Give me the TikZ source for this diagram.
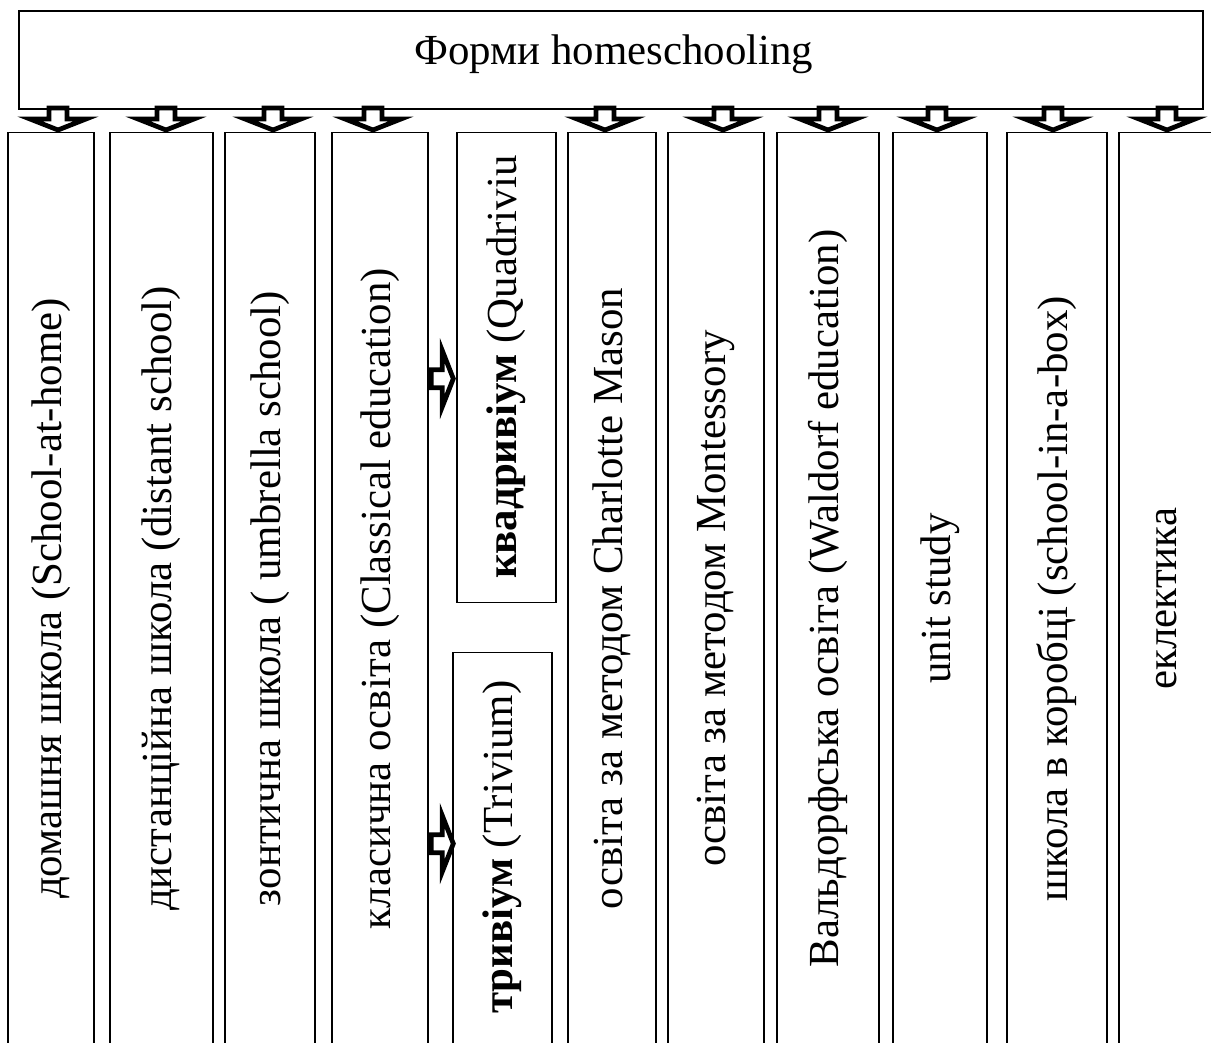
\documentclass[tikz,border=0pt]{standalone}
\usepackage{fontspec}
\setmainfont{Liberation Serif}
\usepackage{graphicx}
\usetikzlibrary{positioning,calc}

\begin{document}
\begin{tikzpicture}[x=0.02cm,y=-0.02cm,font=\fontsize{24.4}{29}\selectfont,
  frm/.style={draw,line width=0.8pt,inner sep=0pt},
  col/.style={frm,anchor=north,minimum height=18.64cm},
  blk/.style={draw=black,fill=white,line width=0.095cm,miter limit=10},
  darr/.pic={\path[blk] (-9,-24) -- (9,-24) -- (9,-13) -- (28,-13)
    -- (0,-2) -- (-28,-13) -- (-9,-13) -- cycle;}]
% units: 1 = one pixel of the page, y grows downwards
\path[use as bounding box] (0,0) rectangle (1211,1043);
\clip (0,0) rectangle (1211,1043);
% ---- header ----
\node[frm,minimum width=23.68cm,minimum height=1.96cm] (top) at (611,60) {};
\node (title) at ($(top.center)+(3,-6)$) {Форми homeschooling};
% ---- columns ----
\foreach \n/\cx/\w/\t in {
  c1/51/86/{домашня школа (School-at-home)},
  c2/161.5/103/{дистанційна школа (distant school)},
  c3/270/90/{зонтична школа ( umbrella school)},
  c4/380/96/{класична освіта (Classical education)},
  c5/612/88/{освіта за методом Charlotte Mason},
  c6/716/96/{освіта за методом Montessory},
  c7/828/102/{Вальдорфська освіта (Waldorf education)},
  c8/940/94/{unit study},
  c9/1057/100/{школа в коробці (school-in-a-box)},
  c10/1167/96/{еклектика}}
  \node[col,minimum width=\w*0.02cm] (\n) at (\cx,132) {\rotatebox{90}{\t}};
% ---- the two parts of classical education ----
\node[frm,anchor=north,minimum width=1.98cm,minimum height=9.4cm] (quad) at (506.5,132) {};
\node[anchor=south,inner sep=0pt] (quadtxt) at ([yshift=0.48cm]quad.south)
  {\rotatebox{90}{\textbf{квадривіум} (Quadriviu}};
\node[frm,anchor=north,minimum width=1.98cm,minimum height=8.24cm] (triv) at (502.5,652) {};
\node[anchor=south,inner sep=0pt] (trivtxt) at ([yshift=1.02cm]triv.south)
  {\rotatebox{90}{\textbf{тривіум} (Trivium)}};
% ---- block arrows ----
\foreach \n/\dx in {c1/7,c2/4.5,c3/3,c4/-7,c5/-7,c6/7,c7/0,c8/-3,c9/-4,c10/0}
  \pic at ($(\n.north)+(\dx,0)$) {darr};
\pic[rotate=90] at ($(quad.west)+(-1,11)$) {darr};
\pic[rotate=90] at ($(triv.west)+(3,-15)$) {darr};
\end{tikzpicture}
\end{document}
